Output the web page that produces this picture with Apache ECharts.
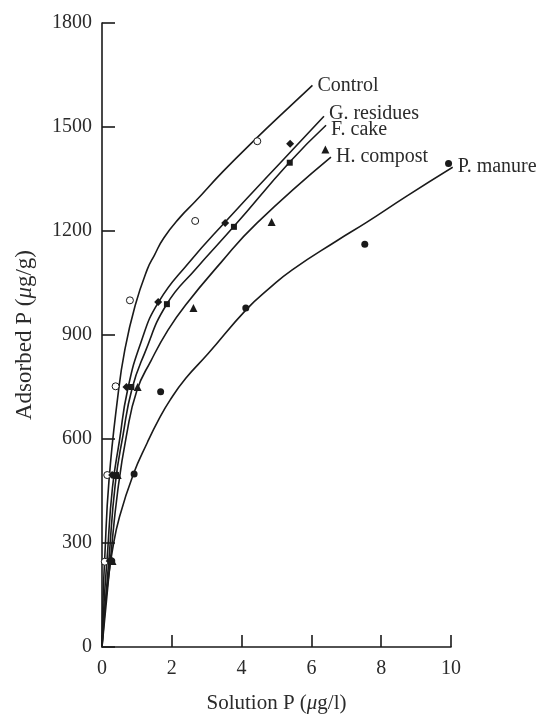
<!DOCTYPE html>
<html>
<head>
<meta charset="utf-8">
<title>P adsorption isotherms</title>
<script src="https://cdn.jsdelivr.net/npm/echarts@6/dist/echarts.min.js"></script>
<style>
  html, body { margin: 0; padding: 0; background: #fff; }
  #main { width: 543px; height: 714px; }
</style>
</head>
<body>
<div id="main"></div>
<script>
// axis ticks
var xTicks = [0, 2, 4, 6, 8, 10];
var yTicks = [0, 300, 600, 900, 1200, 1500, 1800];

var names = ['Control', 'G. residues', 'F. cake', 'H. compost', 'P. manure'];

// measured points (solution P, adsorbed P)
var controlObs = [[0.08, 246], [0.15, 496], [0.39, 752], [0.8, 1000], [2.67, 1229], [4.45, 1459]];
var gresObs    = [[0.22, 248], [0.29, 496], [0.7, 750], [1.61, 995], [3.53, 1223], [5.39, 1452]];
var fcakeObs   = [[0.26, 246], [0.4, 496], [0.84, 750], [1.86, 989], [3.78, 1212], [5.38, 1397]];
var hcompObs   = [[0.3, 248], [0.45, 496], [1.02, 750], [2.62, 978], [4.86, 1226], [6.4, 1435]];
var pmanObs    = [[0.28, 248], [0.92, 499], [1.68, 736], [4.12, 978], [7.53, 1162], [9.93, 1395]];

// fitted curves
var controlFit = [[0, 0], [0.03, 140], [0.08, 260], [0.2, 480], [0.45, 720], [0.65, 855], [0.95, 985],
                  [1.3, 1090], [1.5, 1130], [1.77, 1180], [2.24, 1240], [2.67, 1285], [3.47, 1372],
                  [4.45, 1470], [5.18, 1540], [6.03, 1620]];
var gresFit    = [[0, 0], [0.06, 130], [0.15, 260], [0.3, 460], [0.5, 595], [0.73, 740], [1.12, 880],
                  [1.62, 995], [2.5, 1110], [3.53, 1226], [5.4, 1428], [6.36, 1531]];
var fcakeFit   = [[0, 0], [0.1, 130], [0.2, 255], [0.38, 470], [0.6, 610], [0.86, 745], [1.22, 847],
                  [1.85, 988], [2.7, 1092], [3.77, 1212], [5.38, 1399], [6.42, 1505]];
var hcompFit   = [[0, 0], [0.12, 125], [0.24, 250], [0.45, 450], [0.7, 610], [1.0, 740], [1.41, 827],
                  [1.89, 914], [2.39, 986], [3.4, 1108], [4.43, 1222], [6.56, 1413]];
var pmanFit    = [[0, 0], [0.05, 80], [0.16, 180], [0.3, 280], [0.5, 375], [0.9, 499], [1.3, 590],
                  [1.62, 655], [1.95, 712], [2.4, 775], [3.03, 845], [4.14, 974], [4.8, 1035],
                  [5.45, 1088], [6.73, 1172], [7.58, 1225], [8.72, 1300], [10.05, 1384]];

var ink = '#1a1a1a';
var txt = '#2b2b2b';
var serif = '"Liberation Serif", "DejaVu Serif", serif';

function curve(name, pts, off)
{
    return {
        name: name,
        type: 'line',
        data: pts,
        smooth: 0.5,
        showSymbol: false,
        clip: false,
        silent: true,
        z: 2,
        lineStyle: { color: ink, width: 1.6 },
        endLabel: {
            show: true,
            formatter: name,
            color: txt,
            fontFamily: serif,
            fontSize: 20,
            distance: 5,
            offset: off
        }
    };
}

function marks(pts, sym, size, hollow)
{
    return {
        type: 'scatter',
        data: pts,
        symbol: sym,
        symbolSize: size,
        z: 3,
        itemStyle: {
            color: hollow ? '#fff' : ink,
            borderColor: ink,
            borderWidth: hollow ? 1 : 0,
            opacity: 1
        }
    };
}

var myChart = echarts.init(document.getElementById('main'), null, { renderer: 'canvas' });

var tickFont = { fontFamily: serif, fontSize: 20, color: txt };

var option = {
    backgroundColor: '#fff',
    animation: false,
    grid: { left: 102, top: 23, right: 92, bottom: 67, outerBoundsMode: 'none' },
    xAxis: {
        type: 'value',
        min: xTicks[0],
        max: xTicks[xTicks.length - 1],
        interval: xTicks[1] - xTicks[0],
        axisLine: { lineStyle: { color: ink, width: 1.6 } },
        axisTick: { show: true, inside: true, length: 12, lineStyle: { color: ink, width: 1.6 } },
        axisLabel: Object.assign({ margin: 12 }, tickFont),
        splitLine: { show: false },
        name: 'Solution P ({i|μ}g/l)',
        nameLocation: 'middle',
        nameGap: 46,
        nameTextStyle: {
            fontFamily: serif, fontSize: 21, color: txt,
            rich: { i: { fontFamily: serif, fontSize: 21, fontStyle: 'italic', color: txt } }
        }
    },
    yAxis: {
        type: 'value',
        min: yTicks[0],
        max: yTicks[yTicks.length - 1],
        interval: yTicks[1] - yTicks[0],
        axisLine: { show: true, lineStyle: { color: ink, width: 1.6 } },
        axisTick: { show: true, inside: true, length: 13, lineStyle: { color: ink, width: 1.6 } },
        axisLabel: Object.assign({ margin: 10, formatter: function (v) { return String(v); } }, tickFont),
        splitLine: { show: false },
        name: 'Adsorbed P ({i|μ}g/g)',
        nameLocation: 'middle',
        nameGap: 66,
        nameTextStyle: {
            fontFamily: serif, fontSize: 23, color: txt,
            rich: { i: { fontFamily: serif, fontSize: 23, fontStyle: 'italic', color: txt } }
        }
    },
    series: [
        curve(names[0], controlFit, [0, 0]),
        curve(names[1], gresFit, [0, -3]),
        curve(names[2], fcakeFit, [0, 4]),
        curve(names[3], hcompFit, [0, 0]),
        curve(names[4], pmanFit, [0, 0]),
        marks(controlObs, 'circle', 7, true),
        marks(gresObs, 'diamond', 8, false),
        marks(fcakeObs, 'rect', 6, false),
        marks(hcompObs, 'triangle', 8, false),
        marks(pmanObs, 'circle', 7, false)
    ]
};

myChart.setOption(option);
window.addEventListener('resize', myChart.resize);
</script>
</body>
</html>
